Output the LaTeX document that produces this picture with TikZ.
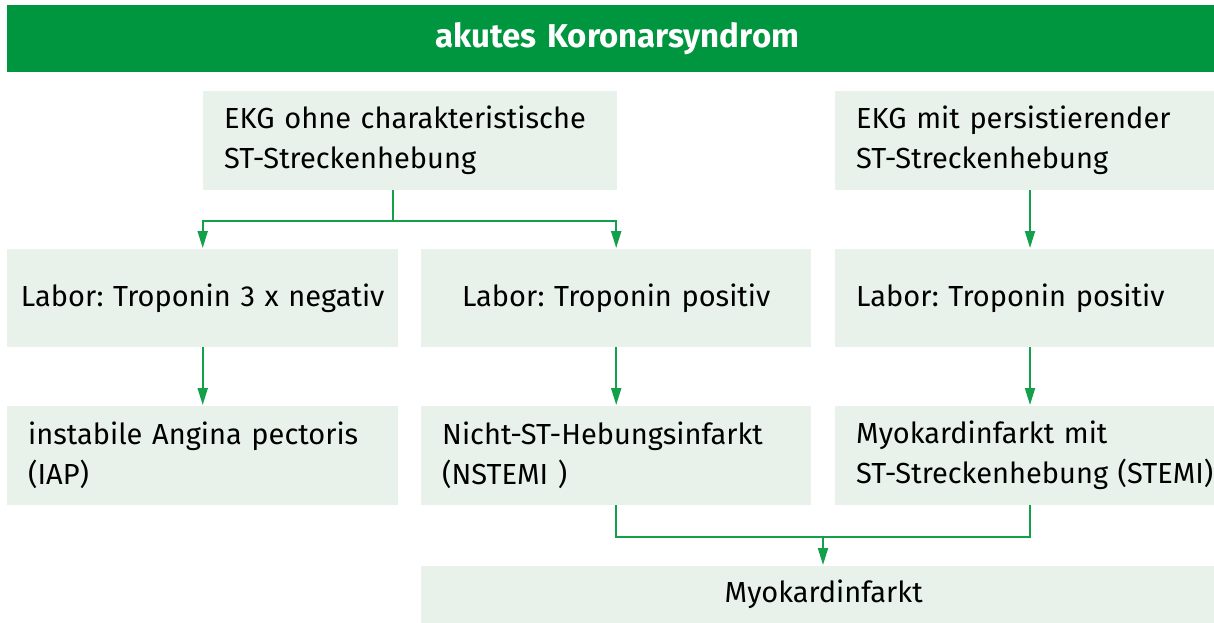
\documentclass[tikz,border=0pt]{standalone}
\usepackage{fontspec}
\setmainfont{Fira Sans}
\usetikzlibrary{arrows.meta}
\definecolor{hdgreen}{RGB}{0,150,64}
\definecolor{boxfill}{RGB}{232,242,234}
\definecolor{lngreen}{RGB}{20,160,75}
\tikzset{
  bx/.style={fill=boxfill, anchor=north west, inner xsep=21pt, inner ysep=0pt,
             minimum height=99pt, font=\fontsize{29}{40}\selectfont},
  ctr/.style={inner xsep=0pt, align=center},
  ln/.style={draw=lngreen, line width=2pt},
  arr/.style={ln, -{Triangle[length=17pt,width=10pt]}, shorten >=1pt},
}
\begin{document}
\frenchspacing
\begin{tikzpicture}[x=1pt,y=-1pt]
\useasboundingbox (0,0) rectangle (1214,623);

% title bar
\node[fill=hdgreen, anchor=north west, minimum height=67pt, inner ysep=0pt,
      inner xsep=0pt, text width=1207pt, align=center,
      text=white, font=\bfseries\fontsize{33}{38}\selectfont]
      (title) at (7,5) {\hspace*{13pt}akutes Koronarsyndrom};

% ECG findings
\node[bx, text width=372pt, align=left] (b1) at (203,91)
  {EKG ohne charakteristische\\ST-Streckenhebung};
\node[bx, text width=362pt, align=left] (b2) at (835,91)
  {EKG mit persistierender\\ST-Streckenhebung};

% laboratory
\node[bx, ctr, text width=391pt, minimum height=98pt] (l1) at (7,249)
  {Labor: Troponin 3 x negativ};
\node[bx, ctr, text width=390pt, minimum height=98pt] (l2) at (421,249)
  {Labor: Troponin positiv};
\node[bx, text width=362pt, minimum height=98pt, align=left] (l3) at (835,249)
  {Labor: Troponin positiv};

% diagnoses
\node[bx, text width=349pt, align=left] (d1) at (7,406)
  {instabile Angina pectoris\\(IAP)};
\node[bx, text width=348pt, align=left] (d2) at (421,406)
  {Nicht-ST-Hebungsinfarkt\\(NSTEMI )};
\node[bx, text width=362pt, align=left] (d3) at (835,406)
  {Myokardinfarkt mit\\ST-Streckenhebung (STEMI)};

% common result
\node[bx, ctr, text width=805pt, minimum height=57pt] (mi) at (421,566)
  {Myokardinfarkt};

% connectors
\coordinate (split) at (393,221);
\coordinate (colR) at (1030,0);
\coordinate (join) at (823,537);

\draw[ln] (b1.south -| split) -- (split);
\draw[arr] (split) -| (l1.north);
\draw[arr] (split) -| (l2.north);
\draw[arr] (b2.south -| colR) -- (l3.north -| colR);

\draw[arr] (l1) -- (d1);
\draw[arr] (l2) -- (d2);
\draw[arr] (l3.south -| colR) -- (d3.north -| colR);

\draw[ln] (d2.south) |- (join) -| (d3.south -| colR);
\draw[arr] (join) -- (mi.north -| join);
\end{tikzpicture}
\end{document}
